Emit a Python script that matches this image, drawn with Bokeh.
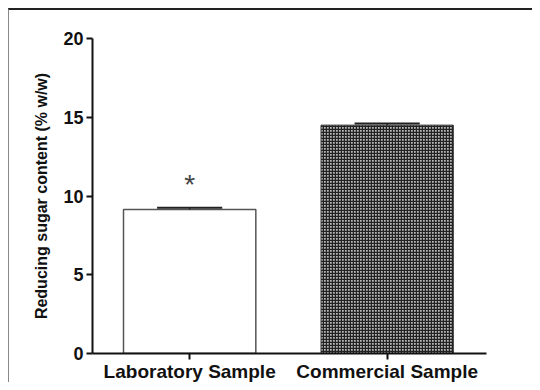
from bokeh.plotting import figure
from bokeh.embed import file_html
from bokeh.resources import INLINE
from bokeh.models import ColumnDataSource, FixedTicker, Range1d
from bokeh.core.properties import value

categories = ["Laboratory Sample", "Commercial Sample"]
means = [9.15, 14.5]
errors = [0.1, 0.1]
y_ticks = [0, 5, 10, 15, 20]
significance = ["*", ""]

xs = [1, 2]
src = ColumnDataSource(dict(
    x=xs, top=means,
    upper=[m + e for m, e in zip(means, errors)],
    cap_l=[x - 0.165 for x in xs], cap_r=[x + 0.165 for x in xs],
))

p = figure(width=524, height=374, output_backend="svg", toolbar_location=None,
           x_range=Range1d(0.508, 2.503), y_range=Range1d(0, 20),
           min_border_left=83, min_border_top=28, min_border_right=47, min_border_bottom=25)
p.styles = {"border-top": "2px solid #222222", "border-left": "1px solid #888888",
            "border-right": "none", "border-bottom": "none",
            "margin-left": "8px", "margin-top": "8px"}
p.outline_line_color = None
p.grid.visible = False
p.background_fill_color = "white"
p.border_fill_color = "white"

# laboratory bar (white)
p.vbar(x=[xs[0]], top=[means[0]], width=0.67, bottom=0, fill_color="white",
       line_color="#555555", line_width=1.5)
# commercial bar (checkered)
p.vbar(x=[xs[1]], top=[means[1]], width=0.67, bottom=0, fill_color="#b8b8b8",
       line_color="#333333", line_width=1,
       hatch_pattern="cross", hatch_color="#222222", hatch_scale=3, hatch_weight=1.5)

# error bars
p.segment(x0="x", y0="top", x1="x", y1="upper", source=src, line_color="#222222", line_width=1.5)
p.segment(x0="cap_l", y0="upper", x1="cap_r", y1="upper", source=src, line_color="#222222", line_width=2)

# significance marker
p.text(x=[xs[0]], y=[means[0] + 1.6], text=[significance[0]], text_align="center",
       text_baseline="middle", text_font=value("Liberation Sans"), text_font_size="28px",
       text_color="#444444")

for ax in (p.xaxis, p.yaxis):
    ax.axis_line_width = 2
    ax.axis_line_color = "#111111"
    ax.major_tick_line_width = 2
    ax.major_tick_line_color = "#111111"
    ax.major_tick_in = 0
    ax.major_tick_out = 6
    ax.minor_tick_line_color = None
    ax.major_label_text_font = "Liberation Sans"
    ax.major_label_text_font_style = "bold"
    ax.major_label_text_color = "#111111"

p.yaxis.ticker = FixedTicker(ticks=y_ticks)
p.yaxis.major_label_text_font_size = "18px"
p.yaxis.major_label_standoff = 3
p.yaxis.axis_label = "Reducing sugar content (% w/w)"
p.yaxis.axis_label_text_font = "Liberation Sans"
p.yaxis.axis_label_text_font_style = "bold"
p.yaxis.axis_label_text_font_size = "16px"
p.yaxis.axis_label_text_color = "#111111"
p.yaxis.axis_label_standoff = 10

p.xaxis.ticker = FixedTicker(ticks=xs)
p.xaxis.major_label_overrides = {x: c for x, c in zip(xs, categories)}
p.xaxis.major_label_text_font_size = "19px"
p.xaxis.major_label_standoff = 1

open("out.html", "w").write(file_html(p, INLINE))
